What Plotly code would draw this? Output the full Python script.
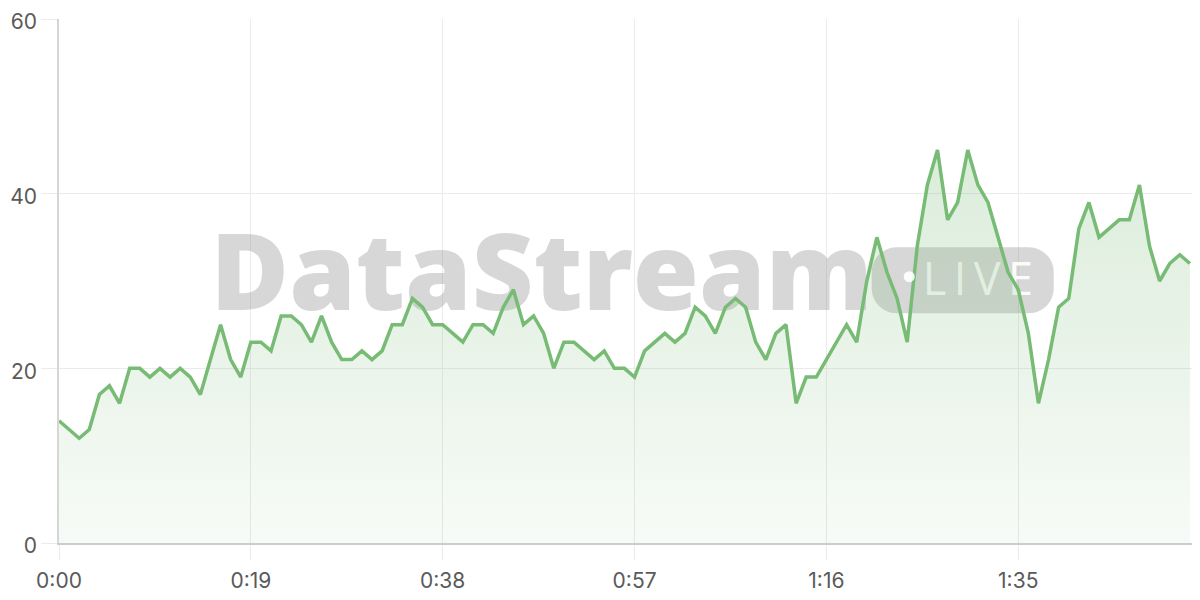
import plotly.graph_objects as go

# ---- data (seconds since start -> value) ----
values = [14, 13, 12, 13, 17, 18, 16, 20, 20, 19, 20, 19, 20, 19, 17, 21, 25, 21, 19, 23,
          23, 22, 26, 26, 25, 23, 26, 23, 21, 21, 22, 21, 22, 25, 25, 28, 27, 25, 25, 24,
          23, 25, 25, 24, 27, 29, 25, 26, 24, 20, 23, 23, 22, 21, 22, 20, 20, 19, 22, 23,
          24, 23, 24, 27, 26, 24, 27, 28, 27, 23, 21, 24, 25, 16, 19, 19, 21, 23, 25, 23,
          30, 35, 31, 28, 23, 34, 41, 45, 37, 39, 45, 41, 39, 35, 31, 29, 24, 16, 21, 27,
          28, 36, 39, 35, 36, 37, 37, 41, 34, 30, 32, 33, 32]
seconds = list(range(len(values)))

x_tick_vals = [0, 19, 38, 57, 76, 95]
x_tick_text = ["0:00", "0:19", "0:38", "0:57", "1:16", "1:35"]
y_tick_vals = [0, 20, 40, 60]

line_color = "#77bb75"
grid_color = "#ebebeb"

fig = go.Figure()

# watermark text (under the data line)
fig.add_trace(go.Scatter(
    x=[47.8], y=[29.8], mode="text", text=["DataStream"],
    textposition="middle center",
    textfont=dict(family="Open Sans", size=107, color="rgba(150,150,150,0.38)", weight=800),
    hoverinfo="skip", showlegend=False, cliponaxis=False,
))

fig.add_trace(go.Scatter(
    x=[91.0], y=[29.7], mode="text", text=["L\u2009I\u2009V\u2009E"],
    textposition="middle center",
    textfont=dict(family="Open Sans", size=45, color="rgba(255,255,255,0.92)", weight=400),
    hoverinfo="skip", showlegend=False, cliponaxis=False,
))

fig.add_trace(go.Scatter(
    x=seconds, y=values, mode="lines",
    line=dict(color=line_color, width=3.5),
    fill="tozeroy",
    fillgradient=dict(
        type="vertical",
        colorscale=[[0, "rgba(122,186,120,0.06)"], [1, "rgba(122,186,120,0.27)"]],
        start=0, stop=45,
    ),
    hoverinfo="skip", showlegend=False,
))

# LIVE badge (rounded rectangle in pixel units) and dot
w, h, r = 91, 33, 25
k = 0.5523 * r
badge_path = (
    f"M {-w + r},{h} L {w - r},{h} "
    f"C {w - r + k},{h} {w},{h - r + k} {w},{h - r} "
    f"L {w},{-h + r} "
    f"C {w},{-h + r - k} {w - r + k},{-h} {w - r},{-h} "
    f"L {-w + r},{-h} "
    f"C {-w + r - k},{-h} {-w},{-h + r - k} {-w},{-h + r} "
    f"L {-w},{h - r} "
    f"C {-w},{h - r + k} {-w + r - k},{h} {-w + r},{h} Z"
)
fig.add_shape(
    type="path", path=badge_path,
    xref="x", yref="y", xsizemode="pixel", ysizemode="pixel",
    xanchor=89.5, yanchor=30.1,
    fillcolor="rgba(150,150,150,0.38)", line=dict(width=0), layer="between",
)
fig.add_shape(
    type="circle",
    xref="x", yref="y", xsizemode="pixel", ysizemode="pixel",
    xanchor=84.2, yanchor=30.5, x0=-5.5, x1=5.5, y0=-5.5, y1=5.5,
    fillcolor="rgba(255,255,255,0.92)", line=dict(width=0), layer="above",
)

tick_font = dict(family="Inter, Liberation Sans, sans-serif", size=21, color="#5a5a5a")

# the page is shown with an 8px body margin, so the plot area is nudged accordingly
fig.update_layout(
    width=1200, height=600,
    margin=dict(l=51, r=8, t=11, b=65, autoexpand=False),
    paper_bgcolor="white", plot_bgcolor="white",
    showlegend=False,
    xaxis=dict(
        range=[0, 113], tickvals=x_tick_vals, ticktext=x_tick_text,
        showgrid=True, gridcolor=grid_color, gridwidth=1,
        ticks="outside", ticklen=15, tickcolor=grid_color,
        showline=True, linecolor="#cccccc", linewidth=1.5,
        zeroline=False, tickfont=tick_font, fixedrange=True, automargin=False,
        ticklabeloverflow="allow", ticklabelstandoff=3,
    ),
    yaxis=dict(
        range=[0, 60], tickvals=y_tick_vals,
        showgrid=True, gridcolor=grid_color, gridwidth=1,
        ticks="outside", ticklen=16, tickcolor=grid_color,
        showline=True, linecolor="#d6d6d6", linewidth=1.5,
        zeroline=False, tickfont=tick_font, fixedrange=True, automargin=False,
        ticklabeloverflow="allow", ticklabelshift=3,
    ),
)

fig.write_html("out.html")
